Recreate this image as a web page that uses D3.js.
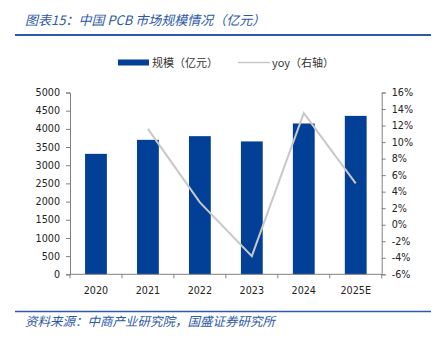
<!DOCTYPE html>
<html><head><meta charset="utf-8">
<script src="https://cdn.jsdelivr.net/npm/d3@7"></script>
<style>
body{margin:0;background:#fff;}
svg{display:block;}
</style></head>
<body>
<svg id="c" width="438" height="340"></svg>
<script>
const categories = ["2020","2021","2022","2023","2024","2025E"];
const scaleValues = [3313, 3698, 3799, 3654, 4148, 4357];
const yoyValues = [null, 11.6, 2.7, -3.8, 13.5, 5.0];
const leftTicks = [0,500,1000,1500,2000,2500,3000,3500,4000,4500,5000];
const rightTicks = [-6,-4,-2,0,2,4,6,8,10,12,14,16];
const titleText = "图表15：中国 PCB 市场规模情况（亿元）";
const sourceText = "资料来源：中商产业研究院，国盛证券研究所";
const legendLabels = ["规模（亿元）", "yoy（右轴）"];

const svg = d3.select("#c");
const blue = "#023f96";
const accent = "#2e58a8";
const axisColor = "#808080";
const numFont = "'DejaVu Sans', Verdana, sans-serif";
const cjkFont = "'Noto Sans CJK SC', sans-serif";

const pLeft = 70, pRight = 381.7, pTop = 92.5, pBottom = 274.3;

const x = d3.scaleBand().domain(categories).range([pLeft, pRight]).paddingInner(0.58).paddingOuter(0.29);
const xb = d3.scaleBand().domain(categories).range([pLeft, pRight]);
const yL = d3.scaleLinear().domain([0,5000]).range([pBottom, pTop]);
const yR = d3.scaleLinear().domain([-6,16]).range([pBottom, pTop]);

// Title
svg.append("text").attr("x", 25).attr("y", 25).attr("fill", accent)
  .attr("font-family", cjkFont).attr("font-size", 13).attr("font-style","italic")
  .text(titleText);
svg.append("line").attr("x1", 15).attr("x2", 431).attr("y1", 35).attr("y2", 35)
  .attr("stroke", accent).attr("stroke-width", 2);

// Source
svg.append("line").attr("x1", 15).attr("x2", 431).attr("y1", 311.5).attr("y2", 311.5)
  .attr("stroke", accent).attr("stroke-width", 1.5);
svg.append("text").attr("x", 25).attr("y", 326).attr("fill", accent)
  .attr("font-family", cjkFont).attr("font-size", 12.5).attr("font-style","italic")
  .text(sourceText);

// Legend
svg.append("rect").attr("x", 118).attr("y", 59.5).attr("width", 31).attr("height", 6).attr("fill", blue);
svg.append("text").attr("x", 152).attr("y", 66.5).attr("fill", "#333")
  .attr("font-family", cjkFont).attr("font-size", 11).text(legendLabels[0]);
svg.append("line").attr("x1", 238).attr("x2", 270).attr("y1", 62.5).attr("y2", 62.5)
  .attr("stroke", "#c8c8c8").attr("stroke-width", 1.5);
svg.append("text").attr("x", 272).attr("y", 66.5).attr("fill", "#333")
  .attr("font-family", cjkFont).attr("font-size", 11).text(legendLabels[1]);

// Bars
svg.append("g").selectAll("rect").data(categories).join("rect")
  .attr("x", d => x(d)).attr("width", x.bandwidth())
  .attr("y", (d,i) => yL(scaleValues[i])).attr("height", (d,i) => pBottom - yL(scaleValues[i]))
  .attr("fill", blue);

// Line
const pts = categories.map((c,i) => ({c, v: yoyValues[i]})).filter(d => d.v !== null);
svg.append("path").datum(pts)
  .attr("d", d3.line().x(d => xb(d.c) + xb.bandwidth()/2).y(d => yR(d.v)))
  .attr("fill","none").attr("stroke","#c8c8c8").attr("stroke-width",2);

// Axes
function styleAxis(g){
  g.selectAll(".domain").attr("stroke", axisColor);
  g.selectAll(".tick line").attr("stroke", axisColor);
  g.selectAll(".tick text").attr("fill", "#222").attr("font-family", numFont).attr("font-size", 9.6);
}
const gL = svg.append("g").attr("transform", `translate(${pLeft},0)`)
  .call(d3.axisLeft(yL).tickValues(leftTicks).tickSize(4).tickPadding(6).tickSizeOuter(4).tickFormat(d3.format("d")));
styleAxis(gL);
const gR = svg.append("g").attr("transform", `translate(${pRight},0)`)
  .call(d3.axisRight(yR).tickValues(rightTicks).tickSize(4).tickPadding(6).tickSizeOuter(4).tickFormat(d => d + "%"));
styleAxis(gR);

// X axis: line + ticks at boundaries
const gX = svg.append("g");
gX.append("line").attr("x1", pLeft).attr("x2", pRight).attr("y1", pBottom).attr("y2", pBottom).attr("stroke", axisColor);
const bounds = categories.map(c => xb(c)).concat([pRight]);
gX.selectAll("line.t").data(bounds).join("line").attr("class","t")
  .attr("x1", d => d).attr("x2", d => d).attr("y1", pBottom).attr("y2", pBottom + 4).attr("stroke", axisColor);
gX.selectAll("text.l").data(categories).join("text").attr("class","l")
  .attr("x", d => xb(d) + xb.bandwidth()/2).attr("y", 294).attr("text-anchor","middle")
  .attr("fill","#222").attr("font-family", numFont).attr("font-size", 9.6).text(d => d);
</script>
</body></html>
